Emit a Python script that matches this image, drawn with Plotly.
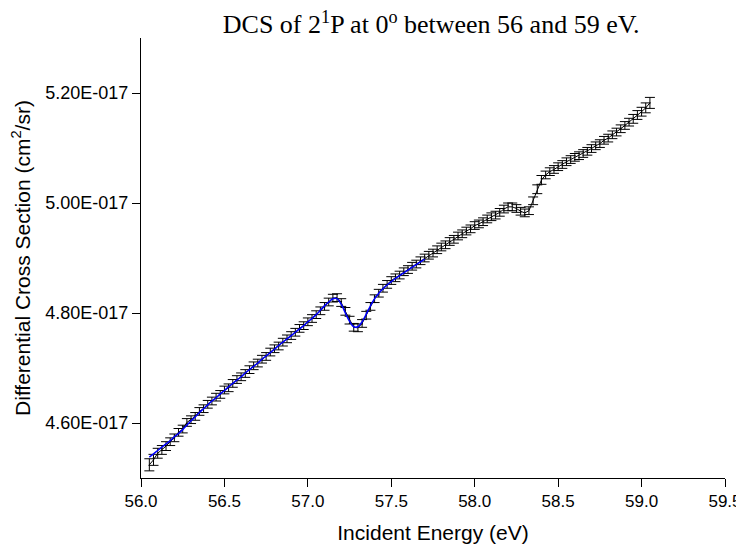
"""
DCS of 2^1P at 0 degrees, incident energy scan 56-59 eV.
"""
import plotly.graph_objects as go

# incident energy (eV)
energy = [
    56.050, 56.075, 56.100, 56.125, 56.150, 56.175, 56.200, 56.225, 56.250, 56.275,
    56.300, 56.325, 56.350, 56.375, 56.400, 56.425, 56.450, 56.475, 56.500, 56.525,
    56.550, 56.575, 56.600, 56.625, 56.650, 56.675, 56.700, 56.725, 56.750, 56.775,
    56.800, 56.825, 56.850, 56.875, 56.900, 56.925, 56.950, 56.975, 57.000, 57.025,
    57.050, 57.075, 57.100, 57.125, 57.150, 57.175, 57.200, 57.225, 57.250, 57.275,
    57.300, 57.325, 57.350, 57.375, 57.400, 57.425, 57.450, 57.475, 57.500, 57.525,
    57.550, 57.575, 57.600, 57.625, 57.650, 57.675, 57.700, 57.725, 57.750, 57.775,
    57.800, 57.825, 57.850, 57.875, 57.900, 57.925, 57.950, 57.975, 58.000, 58.025,
    58.050, 58.075, 58.100, 58.125, 58.150, 58.175, 58.200, 58.225, 58.250, 58.275,
    58.300, 58.325, 58.350, 58.375, 58.400, 58.425, 58.450, 58.475, 58.500, 58.525,
    58.550, 58.575, 58.600, 58.625, 58.650, 58.675, 58.700, 58.725, 58.750, 58.775,
    58.800, 58.825, 58.850, 58.875, 58.900, 58.925, 58.950, 58.975, 59.000, 59.025,
    59.050,
]

# DCS in units of 1E-017 cm^2/sr
dcs = [
    4.524, 4.533, 4.545, 4.551, 4.558, 4.566, 4.573, 4.583, 4.589, 4.601,
    4.606, 4.612, 4.621, 4.626, 4.634, 4.640, 4.647, 4.652, 4.660, 4.664,
    4.672, 4.679, 4.684, 4.690, 4.697, 4.704, 4.709, 4.716, 4.721, 4.729,
    4.735, 4.740, 4.747, 4.753, 4.759, 4.765, 4.772, 4.777, 4.784, 4.790,
    4.797, 4.804, 4.812, 4.820, 4.827, 4.828, 4.819, 4.803, 4.787, 4.774,
    4.773, 4.781, 4.796, 4.812, 4.826, 4.836, 4.845, 4.852, 4.859, 4.864,
    4.869, 4.875, 4.879, 4.885, 4.889, 4.895, 4.900, 4.905, 4.909, 4.915,
    4.920, 4.924, 4.930, 4.934, 4.940, 4.944, 4.949, 4.953, 4.959, 4.962,
    4.966, 4.971, 4.975, 4.978, 4.983, 4.989, 4.993, 4.993, 4.990, 4.985,
    4.982, 4.986, 5.004, 5.025, 5.042, 5.051, 5.057, 5.061, 5.066, 5.070,
    5.075, 5.079, 5.083, 5.086, 5.090, 5.094, 5.099, 5.104, 5.108, 5.114,
    5.118, 5.124, 5.129, 5.135, 5.141, 5.147, 5.153, 5.160, 5.166, 5.173,
    5.182,
]

# error bars (same units)
dcs_err = [
    0.011, 0.010, 0.009, 0.008, 0.008, 0.007, 0.007, 0.007, 0.007, 0.007,
    0.007, 0.007, 0.007, 0.007, 0.007, 0.007, 0.007, 0.007, 0.007, 0.007,
    0.007, 0.007, 0.007, 0.007, 0.007, 0.007, 0.007, 0.007, 0.007, 0.007,
    0.007, 0.007, 0.007, 0.007, 0.007, 0.007, 0.007, 0.007, 0.007, 0.007,
    0.007, 0.007, 0.007, 0.007, 0.007, 0.007, 0.007, 0.007, 0.007, 0.007,
    0.007, 0.007, 0.007, 0.007, 0.007, 0.007, 0.007, 0.007, 0.007, 0.007,
    0.007, 0.007, 0.007, 0.007, 0.007, 0.007, 0.007, 0.007, 0.007, 0.007,
    0.007, 0.007, 0.007, 0.007, 0.007, 0.007, 0.007, 0.007, 0.007, 0.007,
    0.007, 0.007, 0.007, 0.007, 0.007, 0.007, 0.007, 0.007, 0.007, 0.007,
    0.007, 0.007, 0.007, 0.008, 0.008, 0.007, 0.007, 0.007, 0.007, 0.007,
    0.007, 0.007, 0.007, 0.007, 0.007, 0.007, 0.007, 0.007, 0.007, 0.007,
    0.007, 0.007, 0.007, 0.007, 0.007, 0.007, 0.008, 0.008, 0.008, 0.009,
    0.010,
]

# fit over the 57.2 eV resonance
fit_energy = energy[:67]
fit_dcs = [
    4.538, 4.544, 4.550, 4.556, 4.562, 4.568, 4.575, 4.581, 4.588, 4.596,
    4.604, 4.611, 4.619, 4.626, 4.633, 4.640, 4.646, 4.653, 4.659, 4.666,
    4.672, 4.678, 4.684, 4.691, 4.697, 4.703, 4.709, 4.716, 4.722, 4.728,
    4.734, 4.741, 4.747, 4.753, 4.759, 4.765, 4.771, 4.777, 4.784, 4.790,
    4.797, 4.805, 4.813, 4.820, 4.826, 4.826, 4.816, 4.800, 4.785, 4.775,
    4.775, 4.784, 4.798, 4.813, 4.826, 4.836, 4.844, 4.851, 4.857, 4.863,
    4.868, 4.873, 4.878, 4.883, 4.888, 4.893, 4.898,
]

y_ticks = [4.6, 4.8, 5.0, 5.2]
y_labels = ['4.60E-017', '4.80E-017', '5.00E-017', '5.20E-017']
x_ticks = [56.0, 56.5, 57.0, 57.5, 58.0, 58.5, 59.0, 59.5]
x_labels = ['56.0', '56.5', '57.0', '57.5', '58.0', '58.5', '59.0', '59.5']

fig = go.Figure()
fig.add_trace(go.Scatter(
    x=energy, y=dcs, mode='lines',
    line=dict(color='black', width=1),
    error_y=dict(type='data', array=dcs_err, visible=True,
                 color='black', thickness=1, width=5),
    showlegend=False,
))
fig.add_trace(go.Scatter(
    x=fit_energy, y=fit_dcs, mode='lines',
    line=dict(color='#0000ff', width=1.5, shape='spline'),
    showlegend=False,
))

sans = 'Liberation Sans, Arial, sans-serif'
label_font = dict(family=sans, size=21, color='black')

# the page body adds an 8 px offset, so the figure is 8 px smaller
fig.update_layout(
    width=736, height=546,
    margin=dict(l=133, r=19, t=30, b=76),
    plot_bgcolor='white', paper_bgcolor='white',
    title=dict(
        text='DCS of 2<sup>1</sup>P at 0<sup>o</sup> between 56 and 59 eV.',
        font=dict(family='Liberation Serif, Times New Roman, serif', size=26, color='black'),
        x=0.575, xanchor='center', y=0.97, yanchor='middle',
    ),
)
fig.update_xaxes(
    range=[56.0, 59.5], tickvals=x_ticks, ticktext=x_labels,
    showline=True, linecolor='black', linewidth=1, mirror=False,
    ticks='outside', ticklen=8, tickcolor='black',
    showgrid=False, zeroline=False, automargin=False,
    tickfont=dict(family=sans, size=17, color='black'),
    title=dict(text='Incident Energy (eV)', font=label_font, standoff=14),
)
fig.update_yaxes(
    range=[4.5, 5.3], tickvals=y_ticks, ticktext=y_labels,
    showline=True, linecolor='black', linewidth=1, mirror=False,
    ticks='outside', ticklen=8, tickcolor='black',
    showgrid=False, zeroline=False, automargin=False,
    tickfont=dict(family=sans, size=18, color='black'),
    title=dict(text='Differential Cross Section (cm<sup>2</sup>/sr)',
               font=label_font, standoff=10),
)

fig.write_html("out.html")
